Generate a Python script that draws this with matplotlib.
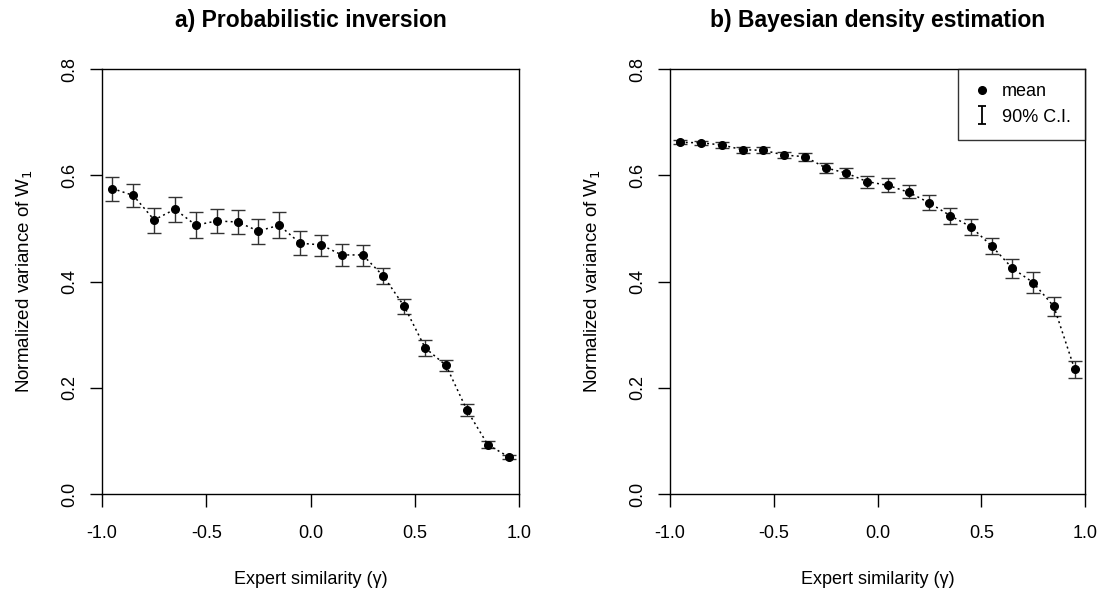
import numpy as np
import matplotlib
matplotlib.use('Agg')
import matplotlib.pyplot as plt
from matplotlib.lines import Line2D
from matplotlib.path import Path

plt.rcParams['font.family'] = ['Liberation Sans', 'DejaVu Sans']

# expert similarity (gamma)
gamma = [-0.95, -0.85, -0.75, -0.65, -0.55, -0.45, -0.35, -0.25, -0.15, -0.05,
         0.05, 0.15, 0.25, 0.35, 0.45, 0.55, 0.65, 0.75, 0.85, 0.95]

# a) probabilistic inversion
pi_mean = [0.575, 0.562, 0.516, 0.536, 0.506, 0.514, 0.512, 0.495, 0.506, 0.472,
           0.469, 0.450, 0.450, 0.410, 0.353, 0.275, 0.242, 0.158, 0.093, 0.070]
pi_low = [0.552, 0.540, 0.492, 0.512, 0.482, 0.491, 0.489, 0.471, 0.482, 0.450,
          0.448, 0.429, 0.430, 0.395, 0.339, 0.260, 0.232, 0.146, 0.087, 0.066]
pi_high = [0.597, 0.584, 0.539, 0.559, 0.530, 0.537, 0.535, 0.518, 0.530, 0.495,
           0.488, 0.471, 0.469, 0.425, 0.367, 0.289, 0.252, 0.169, 0.100, 0.074]

# b) bayesian density estimation
bd_mean = [0.662, 0.661, 0.657, 0.648, 0.647, 0.638, 0.635, 0.614, 0.604, 0.588,
           0.581, 0.568, 0.548, 0.524, 0.503, 0.467, 0.425, 0.398, 0.353, 0.235]
bd_low = [0.658, 0.657, 0.652, 0.642, 0.641, 0.632, 0.627, 0.604, 0.594, 0.576,
          0.568, 0.557, 0.535, 0.508, 0.487, 0.451, 0.407, 0.379, 0.335, 0.218]
bd_high = [0.666, 0.665, 0.662, 0.653, 0.653, 0.644, 0.642, 0.624, 0.613, 0.599,
           0.594, 0.582, 0.562, 0.539, 0.518, 0.482, 0.442, 0.417, 0.370, 0.250]

titles = ['a) Probabilistic inversion', 'b) Bayesian density estimation']


def panel(ax, mean, low, high, title):
    mean = np.array(mean)
    yerr = [mean - np.array(low), np.array(high) - mean]
    ax.errorbar(gamma, mean, yerr=yerr, fmt='none', ecolor='#333333',
                elinewidth=1.0, capsize=4.8, capthick=1.0, zorder=2)
    ax.plot(gamma, mean, color='black', linestyle=(0, (1.3, 2.2)),
            linewidth=1.1, marker='o', markersize=5.5, zorder=3)
    ax.set_xlim(-1, 1)
    ax.set_ylim(0, 0.8)
    ax.set_xticks([-1.0, -0.5, 0.0, 0.5, 1.0])
    ax.set_xticklabels(['-1.0', '-0.5', '0.0', '0.5', '1.0'])
    ax.set_yticks([0.0, 0.2, 0.4, 0.6, 0.8])
    ax.set_yticklabels(['0.0', '0.2', '0.4', '0.6', '0.8'], rotation=90, va='center')
    ax.tick_params(direction='out', length=9, width=1, labelsize=13, pad=8)
    ax.tick_params(axis='x', pad=13.5)
    for s in ax.spines.values():
        s.set_linewidth(1)
    ax.set_title(title, fontsize=16.5, fontweight='bold', pad=30)
    ax.set_xlabel('Expert similarity (\u03b3)', fontsize=13, labelpad=21)
    ax.set_ylabel('Normalized variance of W$_1$', fontsize=13.5, labelpad=19)


fig = plt.figure(figsize=(11.04, 5.97), dpi=100)
ax1 = fig.add_axes([102 / 1104, 103 / 597, 417 / 1104, 425 / 597])
ax2 = fig.add_axes([670 / 1104, 103 / 597, 415 / 1104, 425 / 597])

panel(ax1, pi_mean, pi_low, pi_high, titles[0])
panel(ax2, bd_mean, bd_low, bd_high, titles[1])

# legend: dot for mean, I-beam for the CI
ibeam = Path([(-0.45, 1), (0.45, 1), (0, 1), (0, -1), (-0.45, -1), (0.45, -1)],
             [Path.MOVETO, Path.LINETO, Path.MOVETO, Path.LINETO, Path.MOVETO, Path.LINETO])
handles = [Line2D([], [], linestyle='none', marker='o', markersize=5.5, color='black'),
           Line2D([], [], linestyle='none', marker=ibeam, markersize=13,
                  markeredgewidth=1.3, color='black')]
leg = ax2.legend(handles, ['mean', '90% C.I.'], loc='upper right', fontsize=13,
                 frameon=True, fancybox=False, borderaxespad=0, handlelength=1.0,
                 handletextpad=0.6, borderpad=0.8, labelspacing=0.45)
leg.get_frame().set_edgecolor('black')
leg.get_frame().set_linewidth(1)

fig.savefig('out.png', dpi=100)
